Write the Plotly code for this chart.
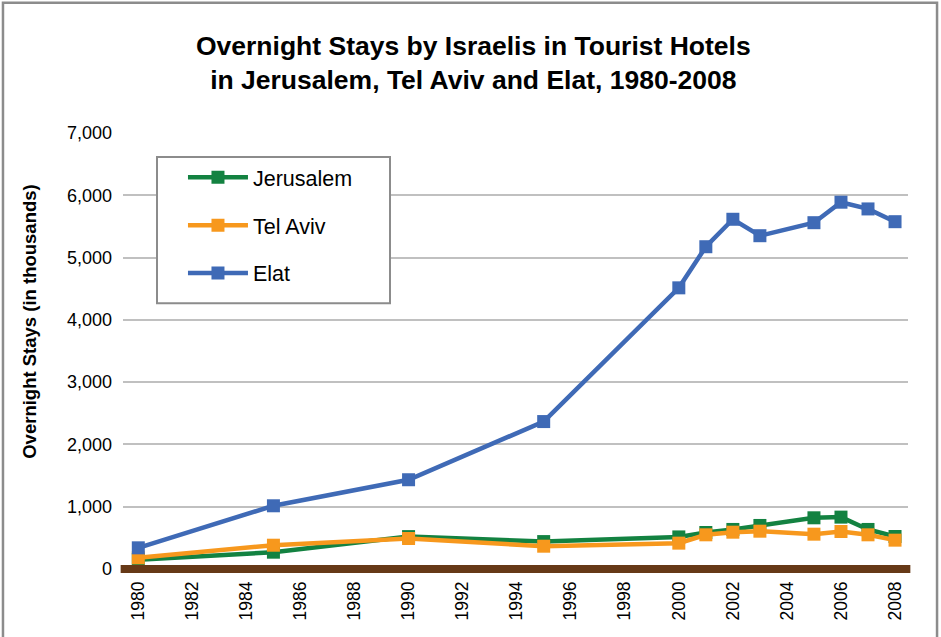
import plotly.graph_objects as go

# Overnight stays (thousands) in tourist hotels, by city
years = [1980, 1985, 1990, 1995, 2000, 2001, 2002, 2003, 2005, 2006, 2007, 2008]
jerusalem = [150, 270, 520, 440, 515, 586, 635, 699, 822, 833, 635, 522]
tel_aviv = [180, 382, 490, 366, 415, 549, 591, 607, 559, 602, 549, 463]
elat = [340, 1015, 1433, 2367, 4514, 5174, 5615, 5351, 5560, 5889, 5781, 5576]

series_names = ["Jerusalem", "Tel Aviv", "Elat"]
series_colors = ["#138241", "#F7981D", "#3F6AB6"]

x_ticks = list(range(1980, 2009, 2))
y_ticks = list(range(0, 7001, 1000))

fig = go.Figure()
for name, vals, color in zip(series_names, [jerusalem, tel_aviv, elat], series_colors):
    fig.add_trace(go.Scatter(
        x=years, y=vals, name=name, legendgroup=name,
        mode="lines+markers",
        line=dict(color=color, width=4.5),
        marker=dict(symbol="square", size=13, color=color),
    ))

fig.update_layout(
    width=941, height=637,
    margin=dict(l=123, r=33, t=133, b=68),
    paper_bgcolor="white", plot_bgcolor="white",
    font=dict(family="Liberation Sans, Arial, sans-serif", color="#000000"),
    title=dict(
        text="Overnight Stays by Israelis in Tourist Hotels<br>in Jerusalem, Tel Aviv and Elat, 1980-2008",
        font=dict(size=26.5, family="Liberation Sans, Arial, sans-serif", weight="bold"),
        x=0.503, xref="container", xanchor="center",
        y=1 - 55 / 637, yref="container", yanchor="middle",
    ),
    xaxis=dict(
        range=[1979.434, 2008.48],
        tickvals=x_ticks, ticktext=[str(v) for v in x_ticks],
        tickangle=-90, tickfont=dict(size=17.5),
        showgrid=False, zeroline=False, showline=False, ticks="",
        ticklabelstandoff=8,
    ),
    yaxis=dict(
        range=[0, 7000],
        tickvals=y_ticks, tickformat=",",
        tickfont=dict(size=18),
        showgrid=True, gridcolor="#C0C0C0", gridwidth=2,
        zeroline=False, showline=False, ticks="",
        ticklabelstandoff=10,
    ),
    legend=dict(
        x=0.0764, y=0.9456, xanchor="left", yanchor="top",
        borderwidth=0, bgcolor="rgba(0,0,0,0)",
        font=dict(size=21.5), tracegroupgap=17, itemwidth=60,
    ),
    annotations=[
        dict(text="<b>Overnight Stays (in thousands)</b>", textangle=-90,
             xref="paper", yref="paper", x=-0.1185, y=0.567,
             xanchor="center", yanchor="middle", showarrow=False,
             font=dict(size=18.5)),
    ],
    shapes=[
        # legend frame
        dict(type="rect", xref="paper", yref="paper",
             x0=(157 - 123) / 785, x1=(390 - 123) / 785,
             y0=(568.5 - 303) / 435.5, y1=(568.5 - 157) / 435.5,
             line=dict(color="#8C8C8C", width=2), fillcolor="white", layer="above"),
        # baseline at zero
        dict(type="line", xref="x domain", yref="y domain",
             x0=-0.003, x1=1.003, y0=0, y1=0,
             line=dict(color="#663917", width=8), layer="above"),
        # outer chart frame
        dict(type="rect", xref="paper", yref="paper",
             x0=-0.1529, x1=1.037, y0=-0.5, y1=1.2985,
             line=dict(color="#8C8C8C", width=2.5), layer="below"),
    ],
)

fig.write_html("out.html")
